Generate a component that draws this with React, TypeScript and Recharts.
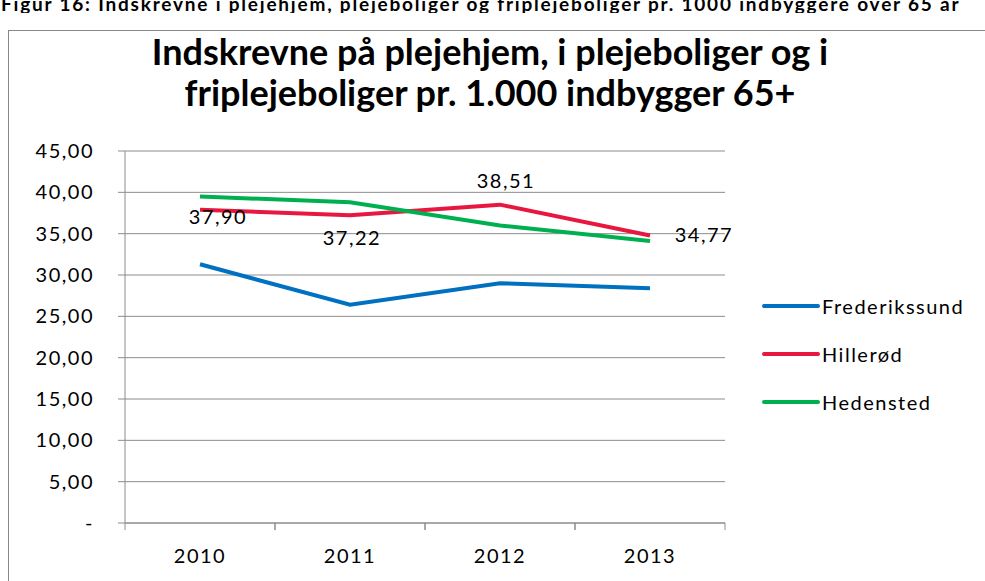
import { CartesianGrid, LabelList, Line, LineChart, XAxis, YAxis } from "recharts";

const years = ["2010", "2011", "2012", "2013"];
const frederikssund = [31.3, 26.4, 29.0, 28.4];
const hillerod = [37.9, 37.22, 38.51, 34.77];
const hedensted = [39.5, 38.8, 36.0, 34.1];
const yTicks = [0, 5, 10, 15, 20, 25, 30, 35, 40, 45];

const seriesInfo = [
  { key: "frederikssund", name: "Frederikssund", color: "#0070C0" },
  { key: "hillerod", name: "Hillerød", color: "#E8173F" },
  { key: "hedensted", name: "Hedensted", color: "#00B050" },
];

const data = years.map((year, i) => ({
  year,
  frederikssund: frederikssund[i],
  hillerod: hillerod[i],
  hedensted: hedensted[i],
}));

const font = "Lato, 'Open Sans', sans-serif";
const grey = "#8c8c8c";
const halfBand = 75; // same as the x padding, so ticks land between categories
const fmt = (v: number) => (v === 0 ? "-" : v.toFixed(2).replace(".", ","));

// Excel put each data label in a different spot
const labelOffsets = [
  { dx: 18, dy: 14 },
  { dx: 2, dy: 30 },
  { dx: 6, dy: -17 },
  { dx: 54, dy: 6 },
];

function HillerodLabel(props: any) {
  const { x, y, value, index } = props;
  const o = labelOffsets[index];
  return (
    <text
      x={x + o.dx}
      y={y + o.dy}
      textAnchor="middle"
      fontSize={20}
      letterSpacing={1.5}
      fill="#000"
      fontFamily={font}
    >
      {fmt(value)}
    </text>
  );
}

function YearTick(props: any) {
  const { x, y, payload } = props;
  return (
    <g>
      <line x1={x - halfBand} x2={x - halfBand} y1={y} y2={y + 7} stroke={grey} />
      <line x1={x + halfBand} x2={x + halfBand} y1={y} y2={y + 7} stroke={grey} />
      <text x={x} y={y + 40} textAnchor="middle" fontSize={20} letterSpacing={1.5} fill="#000" fontFamily={font}>
        {payload.value}
      </text>
    </g>
  );
}

export default function App() {
  return (
    <div style={{ position: "fixed", left: 0, top: 0, width: 985, height: 581, overflow: "hidden", background: "#fff" }}>
      <div style={{ position: "absolute", left: 0, top: 0, height: 13, width: 985, overflow: "hidden" }}>
        <div
          style={{
            position: "absolute",
            top: -8,
            left: 1,
            whiteSpace: "nowrap",
            fontFamily: font,
            fontWeight: 700,
            fontSize: 19,
            letterSpacing: 1.8,
          }}
        >
          Figur 16: Indskrevne i plejehjem, plejeboliger og friplejeboliger pr. 1000 indbyggere over 65 år
        </div>
      </div>
      <div style={{ position: "absolute", left: 8, top: 30, width: 1100, height: 700, border: "1px solid #888" }} />
      <div
        style={{
          position: "absolute",
          left: 0,
          top: 31,
          width: 980,
          textAlign: "center",
          fontFamily: font,
          fontWeight: 700,
          fontSize: 36,
          lineHeight: "41px",
        }}
      >
        Indskrevne på plejehjem, i plejeboliger og i
        <br />
        friplejeboliger pr. 1.000 indbygger 65+
      </div>
      <div style={{ position: "absolute", left: 0, top: 0 }}>
        <LineChart width={985} height={581} data={data} margin={{ top: 151, right: 260, bottom: 0, left: 0 }}>
          <CartesianGrid vertical={false} stroke={grey} strokeWidth={1} />
          <XAxis
            dataKey="year"
            padding={{ left: halfBand, right: halfBand }}
            height={58}
            tickLine={false}
            tickSize={0}
            tickMargin={0}
            axisLine={{ stroke: grey }}
            tick={YearTick}
            interval={0}
          />
          <YAxis
            domain={[0, 45]}
            ticks={yTicks}
            tickFormatter={fmt}
            width={125}
            tickLine={{ stroke: grey }}
            tickSize={7}
            axisLine={{ stroke: grey }}
            tick={{ fontSize: 20, fill: "#000", fontFamily: font, letterSpacing: 1.5 }}
            tickMargin={24}
          />
          <Line dataKey="frederikssund" name="Frederikssund" stroke="#0070C0" strokeWidth={4} dot={false} isAnimationActive={false} />
          <Line dataKey="hillerod" name="Hillerød" stroke="#E8173F" strokeWidth={4} dot={false} isAnimationActive={false}>
            <LabelList dataKey="hillerod" content={HillerodLabel} />
          </Line>
          <Line dataKey="hedensted" name="Hedensted" stroke="#00B050" strokeWidth={4} dot={false} isAnimationActive={false} />
        </LineChart>
      </div>
      <div style={{ position: "absolute", left: 762, top: 282, fontFamily: font, fontSize: 20, letterSpacing: 1.5, color: "#000" }}>
        {seriesInfo.map((s) => (
          <div key={s.key} style={{ display: "flex", alignItems: "center", height: 48 }}>
            <div style={{ width: 58, height: 4, borderRadius: 2, background: s.color, marginRight: 2 }} />
            <span>{s.name}</span>
          </div>
        ))}
      </div>
    </div>
  );
}
